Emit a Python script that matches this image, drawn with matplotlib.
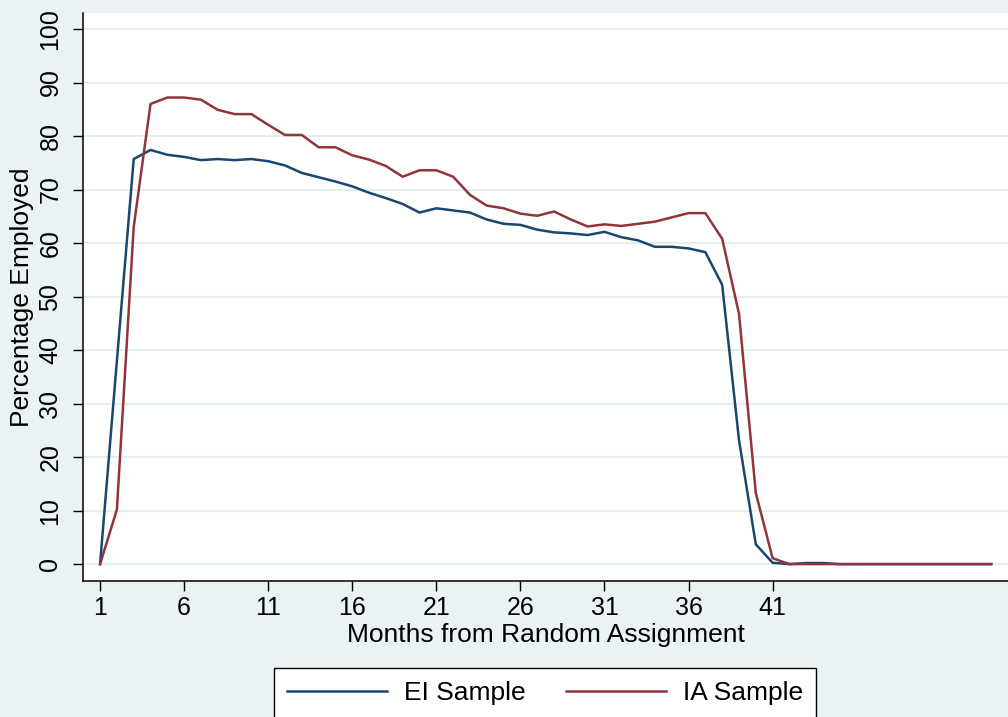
import numpy as np
import matplotlib
matplotlib.use("Agg")
import matplotlib.pyplot as plt

plt.rcParams['font.family'] = ['Liberation Sans', 'DejaVu Sans']

# Data (percentage employed by month)
months = list(range(1, 55))
ei_sample = [0, 38, 75.7, 77.4, 76.5, 76.1, 75.5, 75.7, 75.5, 75.7,
             75.3, 74.5, 73.1, 72.3, 71.5, 70.6, 69.4, 68.4, 67.3, 65.7,
             66.5, 66.1, 65.7, 64.4, 63.6, 63.4, 62.5, 62.0, 61.8, 61.5,
             62.1, 61.1, 60.5, 59.3, 59.3, 59.0, 58.3, 52.2, 23.2, 3.7,
             0.25, 0, 0.2, 0.2, 0, 0, 0, 0, 0, 0,
             0, 0, 0, 0]
ia_sample = [0, 10.2, 63, 86.0, 87.2, 87.2, 86.8, 84.9, 84.1, 84.1,
             82.1, 80.2, 80.2, 77.9, 77.9, 76.4, 75.6, 74.4, 72.4, 73.6,
             73.6, 72.4, 69.0, 67.0, 66.5, 65.5, 65.1, 65.9, 64.4, 63.1,
             63.5, 63.2, 63.6, 64.0, 64.8, 65.6, 65.6, 60.8, 46.8, 13.3,
             1.1, 0, 0, 0, 0, 0, 0, 0, 0, 0,
             0, 0, 0, 0]
x_ticks = [1, 6, 11, 16, 21, 26, 31, 36, 41]
y_ticks = list(range(0, 101, 10))

bg = '#EAF2F3'
navy = '#1A476F'
maroon = '#90353B'

fig = plt.figure(figsize=(10.08, 7.17), dpi=100, facecolor=bg)
ax = fig.add_axes([0.0826, 0.1901, 0.9174, 0.7918])
ax.set_facecolor('white')

ax.plot(months, ei_sample, color=navy, lw=1.8, label='EI Sample')
ax.plot(months, ia_sample, color=maroon, lw=1.8, label='IA Sample')

ax.set_xlim(0, 55)
ax.set_ylim(-3.1, 103)
ax.set_xticks(x_ticks)
ax.set_yticks(y_ticks)
ax.set_yticklabels([str(v) for v in y_ticks], rotation=90, va='center')

ax.grid(axis='y', color='#E4EEF0', lw=1.5)
ax.set_axisbelow(True)
for s in ['top', 'right']:
    ax.spines[s].set_visible(False)
for s in ['left', 'bottom']:
    ax.spines[s].set_linewidth(1.1)

ax.tick_params(axis='both', labelsize=18, length=7, width=1.0)
ax.tick_params(axis='y', pad=8)
ax.tick_params(axis='x', pad=4)

ax.set_xlabel('Months from Random Assignment', fontsize=19, labelpad=2)
ax.set_ylabel('Percentage Employed', fontsize=19, labelpad=3)

leg = fig.legend(loc='upper center', bbox_to_anchor=(545 / 1008, 1 - 668 / 717),
                 ncol=2, fontsize=19, frameon=True, fancybox=False,
                 edgecolor='black', framealpha=1, handlelength=3.8,
                 handletextpad=0.65, columnspacing=1.5, borderpad=0.5,
                 borderaxespad=0)
leg.get_frame().set_linewidth(1.0)

fig.savefig('out.png', dpi=100, facecolor=bg)
